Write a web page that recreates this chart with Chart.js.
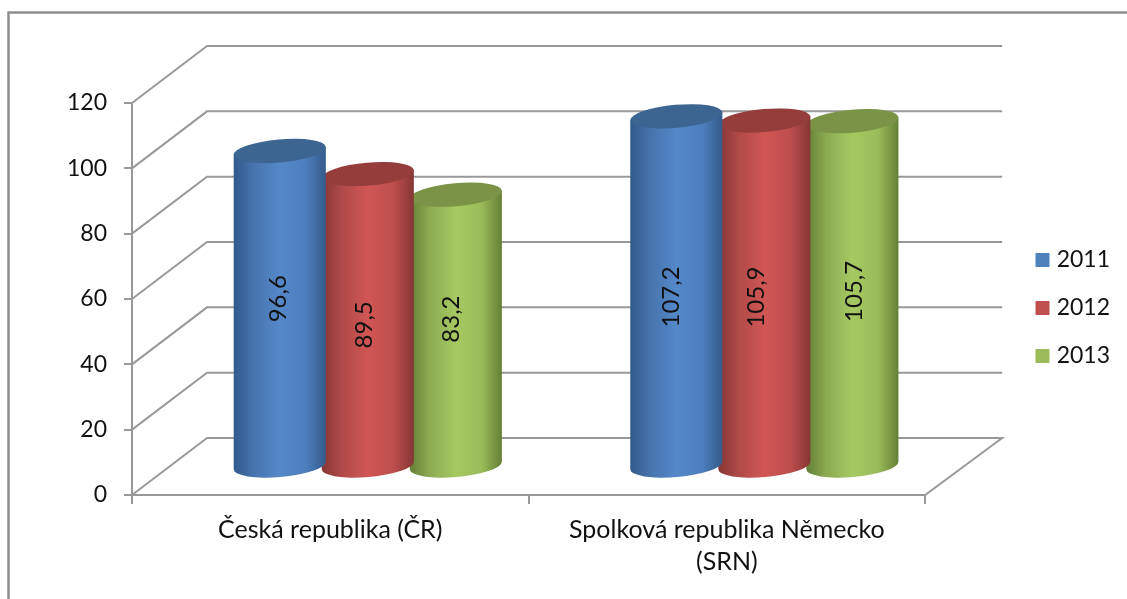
<!DOCTYPE html>
<html><head><meta charset="utf-8">
<style>html,body{margin:0;padding:0;background:#fff}canvas{display:block;filter:blur(.45px)}</style>
<script src="https://cdn.jsdelivr.net/npm/chart.js@4"></script>
</head><body><canvas id="c" width="1127" height="599"></canvas>
<script>
const categories = [["Česká republika (ČR)"], ["Spolková republika Německo", "(SRN)"]];
const seriesNames = ["2011", "2012", "2013"];
const values2011 = [96.6, 107.2];
const values2012 = [89.5, 105.9];
const values2013 = [83.2, 105.7];
const yTicks = [0, 20, 40, 60, 80, 100, 120];

const FONT = "Lato, 'Open Sans', sans-serif";
const GRID = "#999999";
const TEXT = "#111111";
const DEPTH = {x: 75, y: -57};
const MID = {x: 37.5, y: -28.5};
const styles = [
  {base:"#4f81bd", top:"#3c6592", stops:["#32598a","#4674ad","#5588c9","#4d7fbd","#335a8c"]},
  {base:"#c0504d", top:"#943d3b", stops:["#853634","#b04a48","#d05654","#bd4f4d","#853634"]},
  {base:"#9bbb59", top:"#7a9346", stops:["#647f36","#8cab52","#a6c962","#9abb59","#647f36"]}
];
// hand nudges of the value labels relative to the bar middle, per series and category
const labelNudge = [[[-1.5,-9.5],[-5.5,6]], [[-3.5,5],[-8,4]], [[-5,-11],[2,-2]]];

function cylinderDraw(ctx) {
  const p = this.getProps(["x","y","base","width"], true);
  const s = styles[this.$series];
  const rot = -5 * Math.PI / 180, ry = 11.5;
  const rx = p.width / 2;
  const cx = p.x + MID.x, top = p.y + MID.y, bot = p.base + MID.y;
  const dx = rx * Math.cos(rot), dy = rx * Math.sin(rot);
  const g = ctx.createLinearGradient(cx - rx, 0, cx + rx, 0);
  [0, .22, .5, .78, 1].forEach((t, i) => g.addColorStop(t, s.stops[i]));
  ctx.save();
  ctx.beginPath();
  ctx.moveTo(cx - dx, top - dy);
  ctx.lineTo(cx - dx, bot - dy);
  ctx.ellipse(cx, bot, rx, ry, rot, Math.PI, 0, true);
  ctx.lineTo(cx + dx, top + dy);
  ctx.closePath();
  ctx.fillStyle = g;
  ctx.fill();
  ctx.beginPath();
  ctx.ellipse(cx, top, rx, ry, rot, 0, Math.PI * 2);
  ctx.fillStyle = s.top;
  ctx.fill();
  ctx.restore();
}

const scene = {
  id: "scene",
  afterLayout(chart) {
    const l = chart.legend;
    const pad = l.options.labels.padding;
    l.left = 1035.5 - pad; l.right = 1110; l.top = 260 - 11.5 - pad;
  },
  beforeDatasetsDraw(chart) {
    const {ctx, chartArea: a, scales: {y}} = chart;
    ctx.save();
    // frame of the picture
    ctx.strokeStyle = "#8e8e8e"; ctx.lineWidth = 2.5;
    ctx.beginPath(); ctx.moveTo(8.5, 599); ctx.lineTo(8.5, 12.5); ctx.lineTo(1127, 12.5); ctx.stroke();
    // walls and floor
    ctx.strokeStyle = GRID; ctx.lineWidth = 2;
    yTicks.forEach(v => {
      const py = y.getPixelForValue(v);
      ctx.beginPath();
      ctx.moveTo(a.left, py);
      ctx.lineTo(a.left + DEPTH.x, py + DEPTH.y);
      ctx.lineTo(a.right + DEPTH.x + 2, py + DEPTH.y);
      if (v === 0) ctx.lineTo(a.right, py);
      ctx.stroke();
    });
    ctx.restore();
    chart.data.datasets.forEach((d, i) => {
      chart.getDatasetMeta(i).data.forEach(el => { el.$series = i; el.draw = cylinderDraw; });
    });
  },
  afterDatasetsDraw(chart) {
    const ctx = chart.ctx;
    chart.data.datasets.forEach((d, i) => {
      chart.getDatasetMeta(i).data.forEach((el, j) => {
        const p = el.getProps(["x","y","base"], true);
        const n = labelNudge[i][j];
        ctx.save();
        ctx.translate(p.x + MID.x + n[0], (p.y + p.base) / 2 + MID.y + n[1]);
        ctx.rotate(-Math.PI / 2);
        ctx.font = "24px " + FONT;
        ctx.fillStyle = TEXT;
        ctx.textAlign = "center"; ctx.textBaseline = "middle";
        ctx.fillText(d.data[j].toFixed(1).replace(".", ","), 0, 0);
        ctx.restore();
      });
    });
  }
};

const seriesData = [values2011, values2012, values2013];
new Chart(document.getElementById("c"), {
  type: "bar",
  data: {
    labels: categories,
    datasets: seriesNames.map((n, i) => ({
      label: n, data: seriesData[i], backgroundColor: styles[i].base, borderWidth: 0,
      categoryPercentage: 0.666, barPercentage: 1.05, clip: false
    }))
  },
  options: {
    responsive: false, animation: false, events: [],
    layout: {padding: {left: 0, top: 103, right: 88, bottom: 0}},
    plugins: {
      tooltip: {enabled: false}, title: {display: false},
      legend: {
        position: "right", align: "start",
        labels: {boxWidth: 14, boxHeight: 14, padding: 25, textAlign: "right",
                 color: TEXT, font: {family: FONT, size: 23}}
      }
    },
    scales: {
      x: {
        afterFit: s => { s.height = 104; },
        grid: {color: GRID, lineWidth: 2, tickLength: 9, drawOnChartArea: false},
        border: {color: GRID, width: 2},
        ticks: {color: TEXT, font: {family: FONT, size: 25, lineHeight: 1.28}, padding: 10, maxRotation: 0, autoSkip: false}
      },
      y: {
        min: 0, max: 120,
        afterFit: s => { s.width = 132; },
        afterBuildTicks: s => { s.ticks = yTicks.map(v => ({value: v})); },
        grid: {color: GRID, lineWidth: 2, tickLength: 8, drawOnChartArea: false},
        border: {color: GRID, width: 2},
        ticks: {color: TEXT, font: {family: FONT, size: 23}, padding: 17}
      }
    }
  },
  plugins: [scene]
});
</script></body></html>
